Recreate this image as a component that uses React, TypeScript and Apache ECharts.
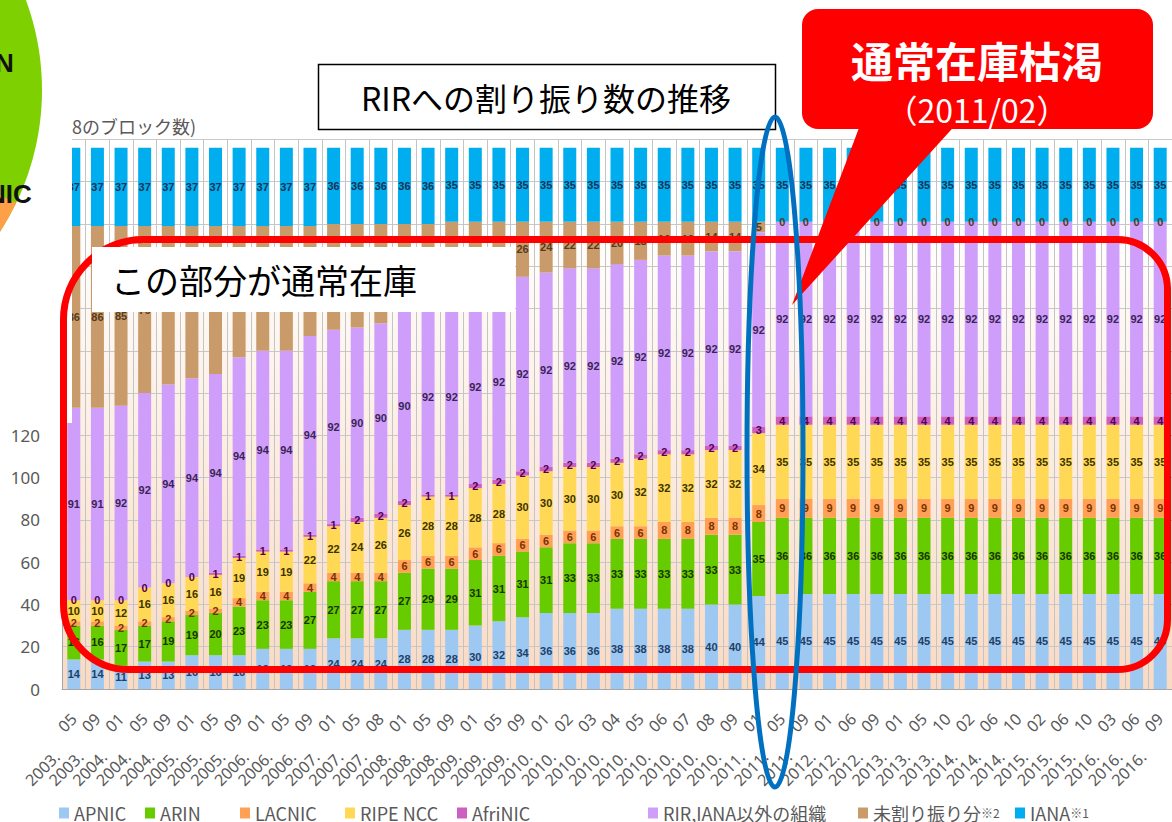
import React, { useEffect, useRef } from 'react';
import * as echarts from 'echarts';

const categories = [
  '2003.05', '2003.09', '2004.01', '2004.05', '2004.09', '2005.01', '2005.05', '2005.09',
  '2006.01', '2006.05', '2006.09', '2007.01', '2007.05', '2007.08', '2008.01', '2008.05',
  '2008.09', '2009.01', '2009.05', '2009.09', '2010.01', '2010.02', '2010.03', '2010.04',
  '2010.05', '2010.06', '2010.07', '2010.08', '2010.09', '2011.01', '2011.05', '2011.09',
  '2012.01', '2012.06', '2012.09', '2013.01', '2013.05', '2013.10', '2014.02', '2014.06',
  '2014.10', '2015.02', '2015.06', '2015.10', '2016.03', '2016.06', '2016.09',
];

const apnic = [14, 14, 11, 13, 13, 16, 16, 16, 19, 19, 19, 24, 24, 24, 28, 28, 28, 30, 32, 34, 36, 36, 36, 38, 38, 38, 38, 40, 40, 44,
  45, 45, 45, 45, 45, 45, 45, 45, 45, 45, 45, 45, 45, 45, 45, 45, 45];
const arin = [16, 16, 17, 17, 19, 19, 20, 23, 23, 23, 27, 27, 27, 27, 27, 29, 29, 31, 31, 31, 31, 33, 33, 33, 33, 33, 33, 33, 33, 35,
  36, 36, 36, 36, 36, 36, 36, 36, 36, 36, 36, 36, 36, 36, 36, 36, 36];
const lacnic = [2, 2, 2, 2, 2, 2, 2, 4, 4, 4, 4, 4, 4, 4, 6, 6, 6, 6, 6, 6, 6, 6, 6, 6, 6, 8, 8, 8, 8, 8,
  9, 9, 9, 9, 9, 9, 9, 9, 9, 9, 9, 9, 9, 9, 9, 9, 9];
const ripe = [10, 10, 12, 16, 16, 16, 16, 19, 19, 19, 22, 22, 24, 26, 26, 28, 28, 28, 28, 30, 30, 30, 30, 30, 32, 32, 32, 32, 32, 34,
  35, 35, 35, 35, 35, 35, 35, 35, 35, 35, 35, 35, 35, 35, 35, 35, 35];
const afrinic = [0, 0, 0, 0, 0, 0, 1, 1, 1, 1, 1, 1, 2, 2, 2, 1, 1, 2, 2, 2, 2, 2, 2, 2, 2, 2, 2, 2, 2, 3,
  4, 4, 4, 4, 4, 4, 4, 4, 4, 4, 4, 4, 4, 4, 4, 4, 4];
const others = [91, 91, 92, 92, 94, 94, 94, 94, 94, 94, 94, 92, 90, 90, 90, 92, 92, 92, 92, 92, 92, 92, 92, 92, 92, 92, 92, 92, 92, 92,
  92, 92, 92, 92, 92, 92, 92, 92, 92, 92, 92, 92, 92, 92, 92, 92, 92];
const unallocated = [86, 86, 85, 79, 75, 72, 70, 62, 59, 59, 52, 50, 49, 47, 41, 36, 37, 32, 30, 26, 24, 22, 22, 20, 18, 16, 16, 14, 14, 5,
  0, 0, 0, 0, 0, 0, 0, 0, 0, 0, 0, 0, 0, 0, 0, 0, 0];
const iana = [37, 37, 37, 37, 37, 37, 37, 37, 37, 37, 37, 36, 36, 36, 36, 36, 35, 35, 35, 35, 35, 35, 35, 35, 35, 35, 35, 35, 35, 35,
  35, 35, 35, 35, 35, 35, 35, 35, 35, 35, 35, 35, 35, 35, 35, 35, 35];

const yTicks = [0, 20, 40, 60, 80, 100, 120, 140, 160, 180, 200, 220, 240, 260];

const seriesNames = ['APNIC', 'ARIN', 'LACNIC', 'RIPE NCC', 'AfriNIC', 'RIR,IANA以外の組織', '未割り振り分※2', 'IANA※1'];
const seriesData = [apnic, arin, lacnic, ripe, afrinic, others, unallocated, iana];
const seriesColors = ['#9DC8F2', '#66CC00', '#FFA055', '#FFD955', '#CC5FC0', '#CF9EFA', '#C99A6A', '#00AEEF'];
const labelColors = ['#1F3F66', '#1B3300', '#7A3300', '#3D3300', '#550055', '#3A2455', '#553A1C', '#1A3355'];
const legendLeft = [59, 145, 240, 345, 457, 648, 858, 1015];

export default function App() {
  const ref = useRef<HTMLDivElement>(null);

  useEffect(() => {
    if (!ref.current) return;
    const chart = echarts.init(ref.current, undefined, { renderer: 'svg' });
    const FONT = '"Noto Sans CJK JP", "Noto Sans", sans-serif';
    const AXFONT = '"Noto Sans", "Noto Sans CJK JP", sans-serif';

    const series = seriesNames.map((name, i) => ({
      name,
      type: 'bar',
      stack: 'total',
      data: seriesData[i],
      barWidth: 13,
      itemStyle: { color: seriesColors[i] },
      label: {
        show: true,
        position: 'inside',
        fontSize: 11,
        fontWeight: 'bold',
        fontFamily: '"Liberation Sans", Arial, sans-serif',
        color: labelColors[i],
      },
      emphasis: { disabled: true },
    }));

    const legends = seriesNames.map((name, i) => ({
      data: [name],
      left: legendLeft[i],
      top: 804,
      padding: 0,
      itemWidth: 10,
      itemHeight: 11,
      icon: 'rect',
      selectedMode: false,
      formatter: (n: string) => n.replace(/※(\d)/, '{s|※$1}'),
      textStyle: {
        fontSize: 18,
        color: '#595959',
        fontFamily: FONT,
        rich: { s: { fontSize: 12, color: '#595959', fontFamily: FONT } },
      },
    }));

    const option = {
      animation: false,
      backgroundColor: '#ffffff',
      grid: {
        left: 62,
        right: 0,
        top: 139.4,
        bottom: 133,
        show: true,
        borderWidth: 0,
        backgroundColor: new echarts.graphic.LinearGradient(0, 0, 0, 1, [
          { offset: 0, color: '#FFFFFF' },
          { offset: 0.15, color: '#FFFFFF' },
          { offset: 1, color: '#F9DAC3' },
        ]),
      },
      legend: legends,
      xAxis: [
        {
          type: 'category',
          data: categories,
          position: 'bottom',
          axisLine: { show: true, lineStyle: { color: '#A6A6A6' } },
          axisTick: { show: false },
          splitLine: { show: true, lineStyle: { color: '#C4C4C4', width: 1 } },
          axisLabel: {
            interval: 0,
            rotate: 45,
            margin: 27,
            fontSize: 16,
            color: '#595959',
            fontFamily: AXFONT,
            formatter: (v: string) => v.split('.')[1],
          },
        },
        {
          type: 'category',
          data: categories,
          position: 'bottom',
          axisLine: { show: false },
          axisTick: { show: false },
          splitLine: { show: false },
          axisLabel: {
            interval: 0,
            rotate: 45,
            margin: 48,
            padding: [0, 24, 0, 0],
            fontSize: 16,
            color: '#595959',
            fontFamily: AXFONT,
            formatter: (v: string) => v.split('.')[0] + '.',
          },
        },
      ],
      yAxis: {
        type: 'value',
        min: yTicks[0],
        max: yTicks[yTicks.length - 1],
        interval: 20,
        axisLine: { show: true, lineStyle: { color: '#A6A6A6' } },
        axisTick: { show: false },
        splitLine: { show: true, lineStyle: { color: '#C8C8C8' } },
        axisLabel: { margin: 22, fontSize: 17, color: '#595959', fontFamily: AXFONT },
      },
      series,
      graphic: {
        elements: [
          { type: 'rect', z: 100, shape: { x: 0, y: 0, width: 72, height: 423 }, style: { fill: '#ffffff' } },
          { type: 'circle', z: 101, shape: { cx: -218, cy: 90, r: 260 }, style: { fill: '#7FD000' } },
          {
            type: 'sector', z: 102,
            shape: { cx: -218, cy: 90, r: 260, r0: 0, startAngle: 0.45, endAngle: 1.3, clockwise: true },
            style: { fill: '#FFA048' },
          },
          { type: 'text', z: 103, x: -5, y: 63, style: { text: 'N', font: 'bold 26px "Liberation Sans", Arial', fill: '#111', verticalAlign: 'middle' } },
          { type: 'text', z: 103, x: -13, y: 194, style: { text: 'NIC', font: 'bold 26px "Liberation Sans", Arial', fill: '#111', verticalAlign: 'middle' } },
          { type: 'text', z: 100, x: 72, y: 126, style: { text: '8のブロック数)', font: `18px ${FONT}`, fill: '#595959', verticalAlign: 'middle' } },
          { type: 'rect', z: 100, shape: { x: 318.5, y: 64.5, width: 457, height: 65 }, style: { fill: '#ffffff', stroke: '#000000', lineWidth: 1.5 } },
          { type: 'text', z: 101, x: 546, y: 97, style: { text: 'RIRへの割り振り数の推移', font: `32px ${FONT}`, fill: '#000', align: 'center', verticalAlign: 'middle' } },
          {
            type: 'rect', z: 104,
            shape: { x: 63.5, y: 239.5, width: 1104, height: 430, r: [80, 50, 50, 65] },
            style: { fill: 'none', stroke: '#FF0000', lineWidth: 7 },
          },
          { type: 'rect', z: 105, shape: { x: 92, y: 247, width: 423, height: 65 }, style: { fill: '#ffffff' } },
          { type: 'text', z: 106, x: 111, y: 279, style: { text: 'この部分が通常在庫', font: `34px ${FONT}`, fill: '#000', verticalAlign: 'middle' } },
          { type: 'polygon', z: 107, shape: { points: [[862, 120], [960, 120], [792, 305]] }, style: { fill: '#FF0000' } },
          { type: 'rect', z: 107, shape: { x: 802, y: 9, width: 351, height: 120, r: 16 }, style: { fill: '#FF0000' } },
          { type: 'text', z: 108, x: 977, y: 59, style: { text: '通常在庫枯渇', font: `bold 42px ${FONT}`, fill: '#ffffff', align: 'center', verticalAlign: 'middle' } },
          { type: 'text', z: 108, x: 977, y: 109, style: { text: '（2011/02）', font: `32px ${FONT}`, fill: '#ffffff', align: 'center', verticalAlign: 'middle' } },
          { type: 'ellipse', z: 109, shape: { cx: 775, cy: 452, rx: 28, ry: 335 }, style: { fill: 'none', stroke: '#0070C0', lineWidth: 5 } },
        ],
      },
    };

    chart.setOption(option as any);
    return () => chart.dispose();
  }, []);

  return (
    <div
      ref={ref}
      style={{ position: 'fixed', left: 0, top: 0, width: 1172, height: 822, background: '#ffffff' }}
    />
  );
}
